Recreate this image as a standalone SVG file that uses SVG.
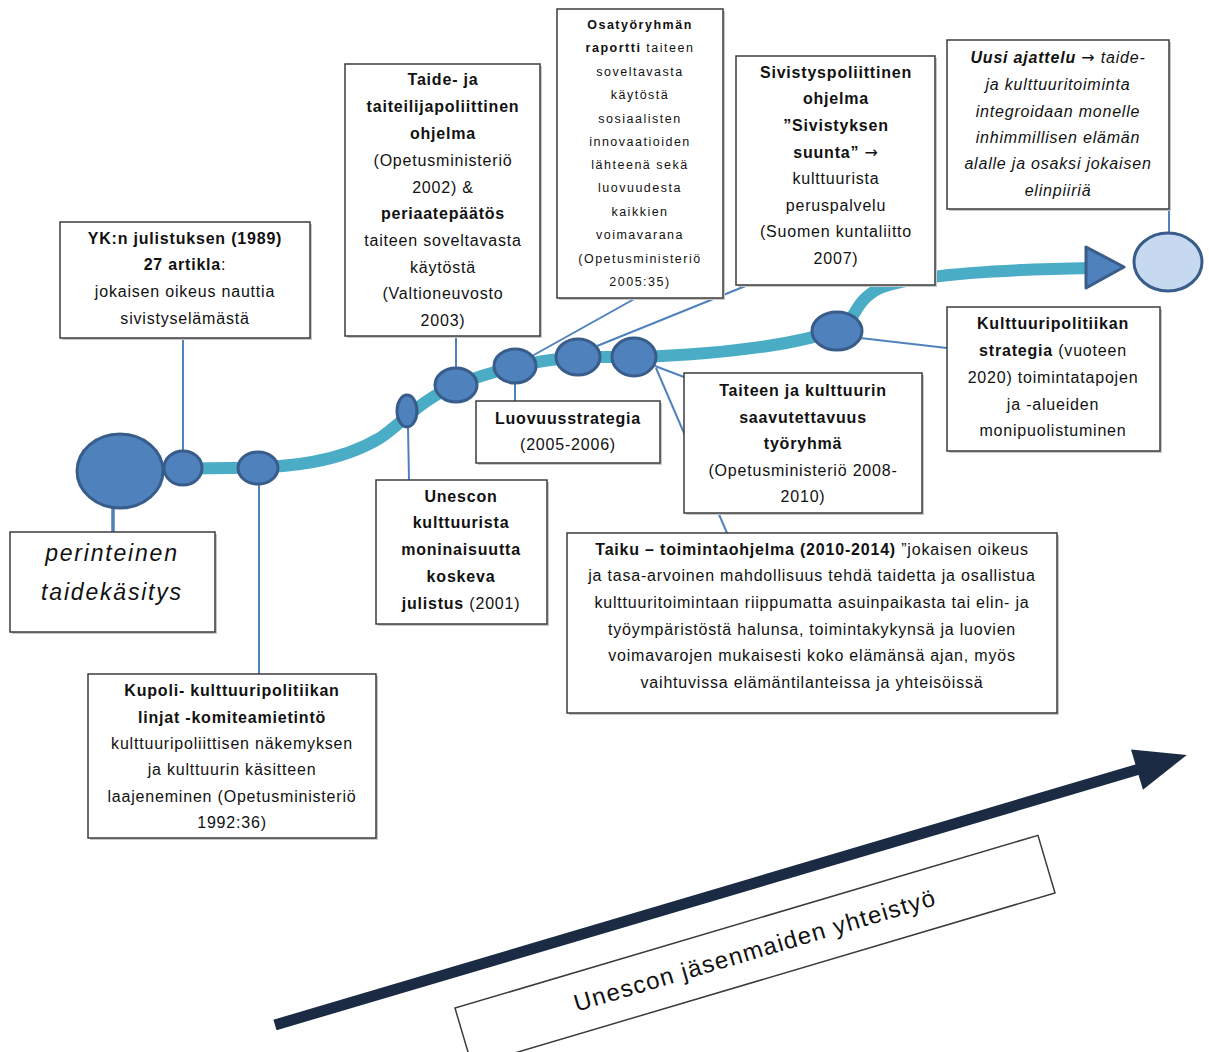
<svg xmlns="http://www.w3.org/2000/svg" width="1209" height="1052" viewBox="0 0 1209 1052">
<style>
.box{fill:#fff;stroke:#3c3c3c;stroke-width:1.5}
.sh{fill:#c8c8c8}
.t{font-family:"Liberation Sans",Arial,sans-serif;font-size:16px;letter-spacing:0.8px;fill:#111;text-anchor:middle}
.s{font-size:12.5px;letter-spacing:1.5px}
.b{font-weight:bold}
.i{font-style:italic}
.ar{font-family:"DejaVu Sans",sans-serif;font-weight:normal}
.con{stroke:#4F81BD;stroke-width:2;fill:none}
.dot{fill:#4F81BD;stroke:#385D8A;stroke-width:3}
</style>
<rect width="1209" height="1052" fill="#fff"/>

<g id="connectors">
<line class="con" x1="183" y1="338" x2="183" y2="452"/>
<line class="con" x1="113" y1="505" x2="113" y2="533" style="stroke-width:3.5"/>
<line class="con" x1="259" y1="484" x2="259" y2="674"/>
<line class="con" x1="456" y1="336" x2="456" y2="369"/>
<line class="con" x1="408" y1="426" x2="409" y2="480"/>
<line class="con" x1="515" y1="383" x2="515" y2="401"/>
<line class="con" x1="636" y1="298" x2="532" y2="356"/>
<line class="con" x1="748" y1="285" x2="597" y2="346"/>
<line class="con" x1="655" y1="366" x2="684" y2="377"/>
<line class="con" x1="656" y1="368" x2="727" y2="533"/>
<line class="con" x1="860" y1="338" x2="947" y2="348"/>
<line class="con" x1="1169" y1="180" x2="1169" y2="234"/>
</g>

<path id="timeline" d="M 150 469 L 230 468 C 290 468 340 462 380 438 C 400 425 420 400 456 385 C 490 372 530 360 580 357 L 640 357 C 720 354 790 346 838 330 C 858 320 852 302 880 288 C 910 276 980 270 1092 268" fill="none" stroke="#4BACC6" stroke-width="12"/>

<g id="circles">
<ellipse class="dot" cx="120" cy="471" rx="43" ry="37"/>
<ellipse class="dot" cx="183" cy="468" rx="19" ry="17"/>
<ellipse class="dot" cx="258" cy="468" rx="20" ry="16"/>
<ellipse class="dot" cx="407" cy="411" rx="10" ry="16"/>
<ellipse class="dot" cx="456" cy="385" rx="21" ry="17"/>
<ellipse class="dot" cx="515" cy="366" rx="21" ry="17"/>
<ellipse class="dot" cx="578" cy="357" rx="22" ry="18"/>
<ellipse class="dot" cx="634" cy="357" rx="22" ry="19"/>
<ellipse class="dot" cx="837" cy="331" rx="25" ry="19"/>
<polygon class="dot" points="1086,247 1086,288 1124,267" stroke-linejoin="round"/>
<ellipse cx="1168" cy="262" rx="34" ry="29" fill="#C6D9F1" stroke="#385D8A" stroke-width="3"/>
</g>

<g id="n-yk">
<rect class="sh" x="62" y="224" width="250" height="116"/>
<rect class="box" x="60" y="222" width="250" height="116"/>
<text class="t"><tspan class="b" x="185" y="244">YK:n julistuksen (1989)</tspan><tspan x="185" y="270"><tspan class="b">27 artikla</tspan>:</tspan><tspan x="185" y="297">jokaisen oikeus nauttia</tspan><tspan x="185" y="324">sivistyselämästä</tspan></text>
</g>

<g id="n-perinteinen">
<rect class="sh" x="12" y="534" width="205" height="100"/>
<rect class="box" x="10" y="532" width="205" height="100"/>
<text class="t i" style="font-size:23px;letter-spacing:1.8px"><tspan x="112" y="561">perinteinen</tspan><tspan x="112" y="600">taidekäsitys</tspan></text>
</g>

<g id="n-kupoli">
<rect class="sh" x="90" y="676" width="288" height="164"/>
<rect class="box" x="88" y="674" width="288" height="164"/>
<text class="t"><tspan class="b" x="232" y="696">Kupoli- kulttuuripolitiikan</tspan><tspan class="b" x="232" y="723">linjat -komiteamietintö</tspan><tspan x="232" y="749">kulttuuripoliittisen näkemyksen</tspan><tspan x="232" y="775">ja kulttuurin käsitteen</tspan><tspan x="232" y="802">laajeneminen (Opetusministeriö</tspan><tspan x="232" y="828">1992:36)</tspan></text>
</g>

<g id="n-taide">
<rect class="sh" x="347" y="66" width="195" height="272"/>
<rect class="box" x="345" y="64" width="195" height="272"/>
<text class="t"><tspan class="b" x="443" y="85">Taide- ja</tspan><tspan class="b" x="443" y="112">taiteilijapoliittinen</tspan><tspan class="b" x="443" y="139">ohjelma</tspan><tspan x="443" y="166">(Opetusministeriö</tspan><tspan x="443" y="193">2002) &amp;</tspan><tspan class="b" x="443" y="219">periaatepäätös</tspan><tspan x="443" y="246">taiteen soveltavasta</tspan><tspan x="443" y="273">käytöstä</tspan><tspan x="443" y="299">(Valtioneuvosto</tspan><tspan x="443" y="326">2003)</tspan></text>
</g>

<g id="n-unescon">
<rect class="sh" x="378" y="482" width="171" height="144"/>
<rect class="box" x="376" y="480" width="171" height="144"/>
<text class="t"><tspan class="b" x="461" y="502">Unescon</tspan><tspan class="b" x="461" y="528">kulttuurista</tspan><tspan class="b" x="461" y="555">moninaisuutta</tspan><tspan class="b" x="461" y="582">koskeva</tspan><tspan x="461" y="609"><tspan class="b">julistus</tspan> (2001)</tspan></text>
</g>

<g id="n-osatyoryhma">
<rect class="sh" x="559" y="11" width="166" height="289"/>
<rect class="box" x="557" y="9" width="166" height="289"/>
<text class="t s"><tspan class="b" x="640" y="28.5">Osatyöryhmän</tspan><tspan x="640" y="51.5"><tspan class="b">raportti</tspan> taiteen</tspan><tspan x="640" y="75.5">soveltavasta</tspan><tspan x="640" y="98.5">käytöstä</tspan><tspan x="640" y="122.5">sosiaalisten</tspan><tspan x="640" y="145.5">innovaatioiden</tspan><tspan x="640" y="168.5">lähteenä sekä</tspan><tspan x="640" y="191.5">luovuudesta</tspan><tspan x="640" y="215.5">kaikkien</tspan><tspan x="640" y="238.5">voimavarana</tspan><tspan x="640" y="262.5">(Opetusministeriö</tspan><tspan x="640" y="285.5">2005:35)</tspan></text>
</g>

<g id="n-luovuus">
<rect class="sh" x="478" y="403" width="184" height="62"/>
<rect class="box" x="476" y="401" width="184" height="62"/>
<text class="t"><tspan class="b" x="568" y="424">Luovuusstrategia</tspan><tspan x="568" y="450">(2005-2006)</tspan></text>
</g>

<g id="n-sivistys">
<rect class="sh" x="738" y="58" width="199" height="229"/>
<rect class="box" x="736" y="56" width="199" height="229"/>
<text class="t"><tspan class="b" x="836" y="78">Sivistyspoliittinen</tspan><tspan class="b" x="836" y="104">ohjelma</tspan><tspan class="b" x="836" y="131">”Sivistyksen</tspan><tspan class="b" x="836" y="158">suunta” <tspan class="ar">→</tspan></tspan><tspan x="836" y="184">kulttuurista</tspan><tspan x="836" y="211">peruspalvelu</tspan><tspan x="836" y="237">(Suomen kuntaliitto</tspan><tspan x="836" y="264">2007)</tspan></text>
</g>

<g id="n-uusi">
<rect class="sh" x="949" y="42" width="222" height="169"/>
<rect class="box" x="947" y="40" width="222" height="169"/>
<text class="t i"><tspan x="1058" y="63"><tspan class="b">Uusi ajattelu</tspan> <tspan class="ar">→</tspan> taide-</tspan><tspan x="1058" y="90">ja kulttuuritoiminta</tspan><tspan x="1058" y="117">integroidaan monelle</tspan><tspan x="1058" y="143">inhimmillisen elämän</tspan><tspan x="1058" y="169">alalle ja osaksi jokaisen</tspan><tspan x="1058" y="196">elinpiiriä</tspan></text>
</g>

<g id="n-taiteen">
<rect class="sh" x="686" y="375" width="238" height="140"/>
<rect class="box" x="684" y="373" width="238" height="140"/>
<text class="t"><tspan class="b" x="803" y="396">Taiteen ja kulttuurin</tspan><tspan class="b" x="803" y="423">saavutettavuus</tspan><tspan class="b" x="803" y="449">työryhmä</tspan><tspan x="803" y="476">(Opetusministeriö 2008-</tspan><tspan x="803" y="502">2010)</tspan></text>
</g>

<g id="n-kulttuuripolitiikka">
<rect class="sh" x="949" y="309" width="213" height="144"/>
<rect class="box" x="947" y="307" width="213" height="144"/>
<text class="t"><tspan class="b" x="1053" y="329">Kulttuuripolitiikan</tspan><tspan x="1053" y="356"><tspan class="b">strategia</tspan> (vuoteen</tspan><tspan x="1053" y="383">2020) toimintatapojen</tspan><tspan x="1053" y="410">ja -alueiden</tspan><tspan x="1053" y="436">monipuolistuminen</tspan></text>
</g>

<g id="n-taiku">
<rect class="sh" x="569" y="535" width="490" height="180"/>
<rect class="box" x="567" y="533" width="490" height="180"/>
<text class="t"><tspan x="812" y="555"><tspan class="b">Taiku – toimintaohjelma (2010-2014)</tspan> ”jokaisen oikeus</tspan><tspan x="812" y="581">ja tasa-arvoinen mahdollisuus tehdä taidetta ja osallistua</tspan><tspan x="812" y="608">kulttuuritoimintaan riippumatta asuinpaikasta tai elin- ja</tspan><tspan x="812" y="635">työympäristöstä halunsa, toimintakykynsä ja luovien</tspan><tspan x="812" y="661">voimavarojen mukaisesti koko elämänsä ajan, myös</tspan><tspan x="812" y="688">vaihtuvissa elämäntilanteissa ja yhteisöissä</tspan></text>
</g>

<g id="big-arrow" transform="translate(275,1025) rotate(-16.5)">
<line x1="0" y1="0" x2="905" y2="0" stroke="#1B2B44" stroke-width="11"/>
<polygon points="899,-21 951,0 899,21" fill="#1B2B44"/>
</g>

<g id="n-yhteistyo" transform="translate(755,950.5) rotate(-16.5)">
<rect x="-304" y="-30" width="608" height="60" fill="#fff" stroke="#3c3c3c" stroke-width="1.5"/>
<text class="t" x="0" y="8" style="font-size:24px;letter-spacing:1.3px">Unescon jäsenmaiden yhteistyö</text>
</g>
</svg>
